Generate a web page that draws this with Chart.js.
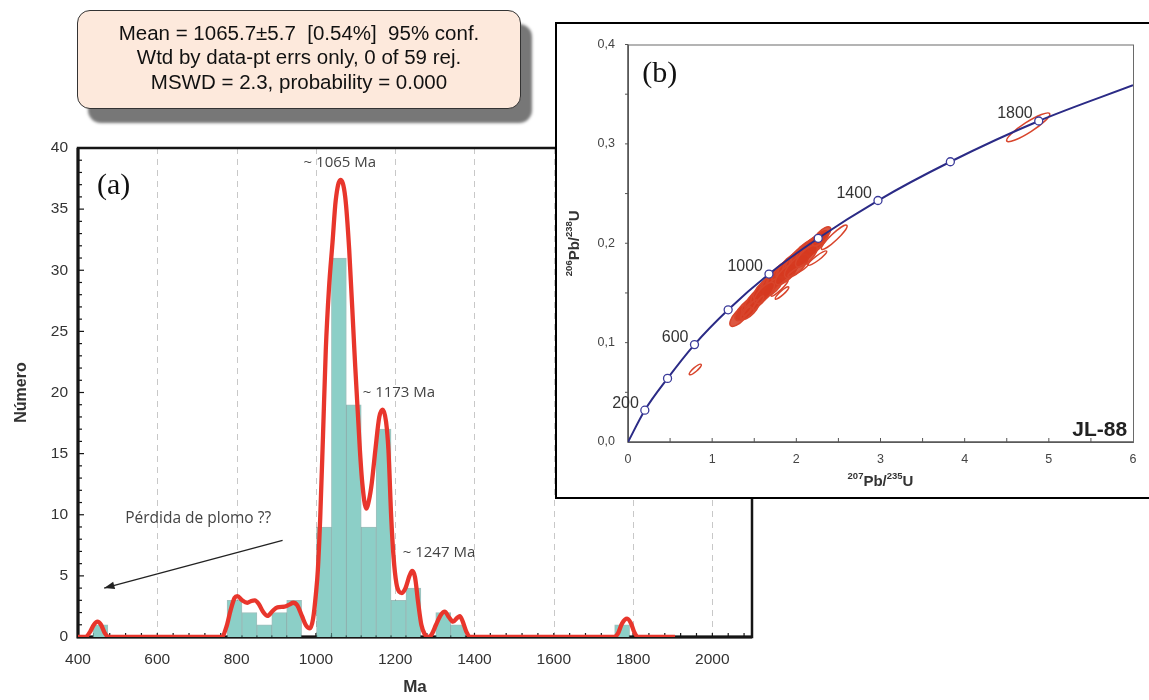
<!DOCTYPE html>
<html>
<head>
<meta charset="utf-8">
<script src="https://cdn.jsdelivr.net/npm/chart.js@4.4.0/dist/chart.umd.min.js"></script>
<style>
body{margin:0;background:#fff;width:1149px;height:700px;overflow:hidden;position:relative;font-family:Arial,"Liberation Sans",sans-serif;}
#histograma{position:absolute;left:0;top:0;}
#caja{position:absolute;left:77px;top:10px;width:444px;height:99px;box-sizing:border-box;background:#fde9dc;border:1.5px solid #333;border-radius:13px;box-shadow:11px 14px 3px #777;text-align:center;font-size:20.5px;line-height:24.3px;color:#111;padding-top:10px;white-space:nowrap;}
#marcoInset{position:absolute;left:555px;top:22px;width:620px;height:477px;box-sizing:border-box;border:2px solid #000;background:#fff;}
#concordia{position:absolute;left:0;top:0;}
</style>
</head>
<body>
<canvas id="histograma" width="1149" height="700"></canvas>
<div id="caja">Mean = 1065.7±5.7&nbsp; [0.54%]&nbsp; 95% conf.<br>Wtd by data-pt errs only, 0 of 59 rej.<br>MSWD = 2.3, probability = 0.000</div>
<div id="marcoInset"><canvas id="concordia" width="592" height="473"></canvas></div>
<script>
// ---------- datos (a): histograma de edades ----------
const centrosBin = [456.4, 794.8, 832.4, 870, 907.6, 945.2, 1020.4, 1058, 1095.6, 1133.2, 1170.8, 1208.4, 1246, 1321.2, 1358.8, 1772.4];
const conteos    = [1, 3, 2, 1, 2, 3, 9, 31, 19, 9, 17, 3, 4, 2, 1, 1];

// curva de probabilidad relativa
const curvaEdad = [400, 418, 430, 440, 449, 458, 468, 478,
    762, 775, 785, 795, 802, 814, 827, 837, 846, 856, 866, 878, 890, 903, 921, 933, 943, 953, 965, 975, 985, 993,
    1000, 1005, 1011, 1018, 1025, 1033, 1042, 1050, 1062, 1074, 1084, 1097, 1111, 1117, 1127, 1134, 1141, 1150,
    1160, 1169, 1177, 1183, 1190, 1196, 1203, 1210, 1217, 1226, 1236, 1243, 1250, 1258, 1266, 1275, 1283,
    1292, 1303, 1315, 1325, 1336, 1346, 1356, 1363, 1370, 1380, 1390,
    1752, 1762, 1772, 1785, 1795, 1803, 1812, 1906];
const curvaValor = [0, 0, 0.4, 1.0, 1.25, 1.0, 0.3, 0,
    0, 0.9, 2.2, 3.2, 3.35, 3.0, 2.8, 2.95, 3.0, 2.7, 2.1, 1.72, 2.1, 2.43, 2.48, 2.65, 2.8, 2.6, 1.7, 0.95, 0.7, 1.5,
    3.5, 5.5, 9.8, 16.5, 23.5, 28.5, 32.3, 35.7, 37.4, 36.0, 31.7, 23.5, 15.3, 12.6, 10.5, 11.2, 12.6, 15.3,
    18.0, 18.6, 17.6, 15.3, 9.8, 6.5, 4.4, 3.7, 3.6, 4.0, 5.0, 5.4, 4.9, 2.8, 1.0, 0.2, 0,
    0.2, 1.0, 1.8, 2.07, 1.6, 1.25, 1.55, 1.7, 1.3, 0.4, 0,
    0, 0.3, 1.1, 1.5, 1.1, 0.4, 0, 0];

const ticksEdad = [400, 600, 800, 1000, 1200, 1400, 1600, 1800, 2000];
const lineasGuia = [600, 800, 1000, 1200, 1400, 1600, 1800, 2000];

// ---------- datos (b): diagrama de concordia ----------
const concordiaX = [0, 0.20, 0.47, 0.79, 1.19, 1.675, 2.26, 2.97, 3.83, 4.88, 6.0];
const concordiaY = [0, 0.032, 0.064, 0.098, 0.133, 0.169, 0.205, 0.243, 0.282, 0.323, 0.359];
const edadesMarca = [200, 400, 600, 800, 1000, 1200, 1400, 1600, 1800];
const edadesEtiqueta = [200, 600, 1000, 1400, 1800];

// elipses de error concordantes (centro x, centro y, error x, error y)
const elipX  = [1.33, 1.41, 1.48, 1.54, 1.60, 1.65, 1.70, 1.74, 1.78, 1.82, 1.86, 1.90, 1.94, 1.98, 2.02, 2.06, 2.10, 2.14, 2.18, 2.22, 2.26, 1.72, 1.88, 2.00, 2.12, 1.45, 1.62, 2.30];
const elipY  = [0.127, 0.134, 0.140, 0.145, 0.151, 0.156, 0.160, 0.164, 0.167, 0.170, 0.173, 0.176, 0.179, 0.182, 0.185, 0.188, 0.191, 0.194, 0.197, 0.199, 0.202, 0.156, 0.169, 0.177, 0.187, 0.133, 0.150, 0.207];
const elipEx = [0.11, 0.13, 0.12, 0.14, 0.13, 0.15, 0.13, 0.14, 0.13, 0.15, 0.14, 0.13, 0.15, 0.13, 0.14, 0.13, 0.15, 0.13, 0.12, 0.13, 0.11, 0.11, 0.12, 0.13, 0.12, 0.10, 0.11, 0.10];
const elipEy = [0.010, 0.011, 0.010, 0.012, 0.011, 0.012, 0.011, 0.012, 0.011, 0.012, 0.011, 0.011, 0.012, 0.011, 0.012, 0.011, 0.012, 0.011, 0.010, 0.011, 0.010, 0.009, 0.010, 0.011, 0.010, 0.009, 0.010, 0.009];
// elipses discordantes (huecas)
const discX  = [1.80, 1.83, 2.02, 2.25, 2.45, 1.45, 1.40, 1.55, 0.80, 4.755];
const discY  = [0.155, 0.150, 0.173, 0.185, 0.206, 0.135, 0.130, 0.140, 0.073, 0.3167];
const discEx = [0.10, 0.08, 0.12, 0.11, 0.15, 0.08, 0.06, 0.06, 0.07, 0.255];
const discEy = [0.008, 0.006, 0.006, 0.007, 0.012, 0.008, 0.006, 0.007, 0.005, 0.0138];

Chart.defaults.font.family = 'Arial, "Liberation Sans", sans-serif';
Chart.defaults.animation = false;

const fuenteNota = '"Open Sans", Lato, sans-serif';
const fuenteArial = 'Arial, "Liberation Sans", sans-serif';

// ---------- grafico (a) ----------
const marcoHistograma = {
    id: 'marcoHistograma',
    beforeDatasetsDraw(chart) {
        const { ctx, chartArea: { left, right, top, bottom }, scales: { x, y } } = chart;
        ctx.save();
        // lineas verticales discontinuas
        ctx.strokeStyle = '#c8c8c8';
        ctx.lineWidth = 1;
        ctx.setLineDash([6, 5]);
        for (const v of lineasGuia) {
            const px = Math.round(x.getPixelForValue(v)) + 0.5;
            ctx.beginPath(); ctx.moveTo(px, top); ctx.lineTo(px, bottom); ctx.stroke();
        }
        ctx.setLineDash([]);
        // marco
        ctx.strokeStyle = '#151515';
        ctx.lineWidth = 2.5;
        ctx.strokeRect(left, top, right - left, bottom - top);
        ctx.lineWidth = 3;
        ctx.beginPath(); ctx.moveTo(left, top); ctx.lineTo(left, bottom); ctx.lineTo(right, bottom); ctx.stroke();
        // marcas menores
        ctx.lineWidth = 1.2;
        for (let v = 440; v < 2100; v += 40) {
            const px = x.getPixelForValue(v);
            ctx.beginPath(); ctx.moveTo(px, bottom); ctx.lineTo(px, bottom - 4); ctx.stroke();
        }
        for (let v = 1; v < 40; v++) {
            const py = y.getPixelForValue(v);
            ctx.beginPath(); ctx.moveTo(left, py); ctx.lineTo(left + (v % 5 === 0 ? 6 : 4), py); ctx.stroke();
        }
        ctx.restore();
    },
    afterDatasetsDraw(chart) {
        const { ctx, scales: { x, y } } = chart;
        ctx.save();
        ctx.fillStyle = '#444';
        ctx.font = '15px ' + fuenteNota;
        ctx.textAlign = 'left';
        ctx.textBaseline = 'middle';
        ctx.fillText('~ 1065 Ma', x.getPixelForValue(969), y.getPixelForValue(38.8));
        ctx.fillText('~ 1173 Ma', x.getPixelForValue(1118), y.getPixelForValue(20.0));
        ctx.fillText('~ 1247 Ma', x.getPixelForValue(1219), y.getPixelForValue(6.9));
        ctx.font = '15.5px ' + fuenteNota;
        ctx.fillText('Pérdida de plomo ??', x.getPixelForValue(519), y.getPixelForValue(9.7));

        // flecha
        const x1 = x.getPixelForValue(916), y1 = y.getPixelForValue(7.9);
        const x2 = x.getPixelForValue(466), y2 = y.getPixelForValue(4.0);
        const ang = Math.atan2(y2 - y1, x2 - x1);
        ctx.strokeStyle = '#222';
        ctx.lineWidth = 1.3;
        ctx.beginPath(); ctx.moveTo(x1, y1); ctx.lineTo(x2, y2); ctx.stroke();
        ctx.fillStyle = '#222';
        ctx.beginPath();
        ctx.moveTo(x2, y2);
        ctx.lineTo(x2 - 11 * Math.cos(ang - 0.35), y2 - 11 * Math.sin(ang - 0.35));
        ctx.lineTo(x2 - 11 * Math.cos(ang + 0.35), y2 - 11 * Math.sin(ang + 0.35));
        ctx.closePath(); ctx.fill();

        // (a)
        ctx.fillStyle = '#111';
        ctx.font = '30px "Liberation Serif", "Times New Roman", serif';
        ctx.textBaseline = 'alphabetic';
        ctx.fillText('(a)', x.getPixelForValue(448), y.getPixelForValue(36.2));
        ctx.restore();
    }
};

new Chart(document.getElementById('histograma'), {
    type: 'bar',
    data: {
        datasets: [
            {
                type: 'line',
                data: curvaEdad.map((e, i) => ({ x: e, y: curvaValor[i] })),
                borderColor: '#e8362c',
                borderWidth: 4.3,
                pointRadius: 0,
                cubicInterpolationMode: 'monotone',
                fill: false,
                order: 0
            },
            {
                type: 'bar',
                data: centrosBin.map((c, i) => ({ x: c, y: conteos[i] })),
                backgroundColor: '#8ccfc7',
                borderColor: 'rgba(80,140,135,0.55)',
                borderWidth: 1,
                barPercentage: 1,
                categoryPercentage: 1,
                order: 1
            }
        ]
    },
    options: {
        responsive: false,
        layout: { padding: { left: 10, top: 148, right: 397, bottom: 0 } },
        plugins: { legend: { display: false }, tooltip: { enabled: false } },
        scales: {
            x: {
                type: 'linear',
                min: 400,
                max: 2100,
                offset: false,
                grid: { display: false, drawTicks: false },
                border: { display: false },
                afterBuildTicks(scale) { scale.ticks = ticksEdad.map(v => ({ value: v })); },
                ticks: {
                    autoSkip: false,
                    maxRotation: 0,
                    padding: 13,
                    color: '#333',
                    font: { size: 15.5 },
                    callback: (v) => String(v)
                },
                title: { display: true, text: 'Ma', color: '#333', font: { size: 17, weight: 'bold' }, padding: { top: 0, bottom: 2 } },
                afterFit(scale) { scale.height = 63; }
            },
            y: {
                min: 0,
                max: 40,
                grid: { display: false, drawTicks: false },
                border: { display: false },
                ticks: { stepSize: 5, padding: 10, color: '#333', font: { size: 15.5 } },
                title: { display: true, text: 'Número', color: '#333', font: { size: 16, weight: 'bold' }, padding: { top: 2, bottom: 0 } },
                afterFit(scale) { scale.width = 68; }
            }
        }
    },
    plugins: [marcoHistograma]
});

// ---------- grafico (b) ----------
function dibujarElipses(ctx, x, y, cx, cy, ex, ey, relleno, razon) {
    for (let i = 0; i < cx.length; i++) {
        const px = x.getPixelForValue(cx[i]);
        const py = y.getPixelForValue(cy[i]);
        const dx = x.getPixelForValue(cx[i] + ex[i]) - px;
        const dy = y.getPixelForValue(cy[i] + ey[i]) - py;
        const a = Math.hypot(dx, dy);
        const b = Math.max(2, a * razon);
        ctx.beginPath();
        ctx.ellipse(px, py, a, b, Math.atan2(dy, dx), 0, Math.PI * 2);
        if (relleno) ctx.fill();
        ctx.stroke();
    }
}

// texto con superindices: partes = [[texto, esSuper], ...]
function textoIsotopo(ctx, partes, cx, cy, rot) {
    const fNormal = 'bold 15px ' + fuenteArial;
    const fSuper = 'bold 9.5px ' + fuenteArial;
    let ancho = 0;
    for (const [t, sup] of partes) { ctx.font = sup ? fSuper : fNormal; ancho += ctx.measureText(t).width; }
    ctx.save();
    ctx.translate(cx, cy);
    ctx.rotate(rot);
    ctx.textAlign = 'left';
    ctx.textBaseline = 'alphabetic';
    let pos = -ancho / 2;
    for (const [t, sup] of partes) {
        ctx.font = sup ? fSuper : fNormal;
        ctx.fillText(t, pos, sup ? -1 : 5.5);
        pos += ctx.measureText(t).width;
    }
    ctx.restore();
}

const detallesConcordia = {
    id: 'detallesConcordia',
    beforeDatasetsDraw(chart) {
        const { ctx, chartArea: { left, right, top, bottom }, scales: { x, y } } = chart;
        ctx.save();
        // marco del area
        ctx.strokeStyle = '#6a6a6a';
        ctx.lineWidth = 1;
        ctx.strokeRect(left + 0.5, top + 0.5, right - left, bottom - top);
        ctx.strokeStyle = '#555';
        ctx.lineWidth = 1.6;
        ctx.beginPath(); ctx.moveTo(left, top); ctx.lineTo(left, bottom); ctx.lineTo(right, bottom); ctx.stroke();
        ctx.lineWidth = 1;
        for (let v = 0.5; v < 6; v += 0.5) {
            const px = x.getPixelForValue(v);
            ctx.beginPath(); ctx.moveTo(px, bottom); ctx.lineTo(px, bottom - 4); ctx.stroke();
        }
        for (let v = 0.05; v < 0.4; v += 0.05) {
            const py = y.getPixelForValue(v);
            ctx.beginPath(); ctx.moveTo(left, py); ctx.lineTo(left - 3, py); ctx.stroke();
        }
        // elipses
        ctx.strokeStyle = '#d8452c';
        ctx.fillStyle = 'rgba(214,58,32,0.85)';
        ctx.lineWidth = 1.5;
        dibujarElipses(ctx, x, y, elipX, elipY, elipEx, elipEy, true, 0.4);
        dibujarElipses(ctx, x, y, discX, discY, discEx, discEy, false, 0.2);
        ctx.restore();
    },
    afterDatasetsDraw(chart) {
        const { ctx, chartArea: { left, right, top, bottom }, scales: { x, y } } = chart;
        ctx.save();
        ctx.fillStyle = '#333';
        ctx.font = '16px ' + fuenteArial;
        ctx.textAlign = 'right';
        ctx.textBaseline = 'middle';
        for (const edad of edadesEtiqueta) {
            const i = edadesMarca.indexOf(edad) + 1;
            ctx.fillText(String(edad), x.getPixelForValue(concordiaX[i]) - 6, y.getPixelForValue(concordiaY[i]) - 7);
        }
        ctx.fillStyle = '#222';
        ctx.font = 'bold 21px ' + fuenteArial;
        ctx.textBaseline = 'alphabetic';
        ctx.fillText('JL-88', x.getPixelForValue(5.93), y.getPixelForValue(0.006));
        ctx.fillStyle = '#111';
        ctx.textAlign = 'left';
        ctx.font = '30px "Liberation Serif", "Times New Roman", serif';
        ctx.fillText('(b)', x.getPixelForValue(0.17), y.getPixelForValue(0.362));

        // titulos de los ejes
        ctx.fillStyle = '#333';
        textoIsotopo(ctx, [['207', true], ['Pb/', false], ['235', true], ['U', false]], (left + right) / 2, 456, 0);
        textoIsotopo(ctx, [['206', true], ['Pb/', false], ['238', true], ['U', false]], 16, (top + bottom) / 2, -Math.PI / 2);
        ctx.restore();
    }
};

new Chart(document.getElementById('concordia'), {
    type: 'scatter',
    data: {
        datasets: [
            {
                data: edadesMarca.map((e, i) => ({ x: concordiaX[i + 1], y: concordiaY[i + 1] })),
                showLine: false,
                pointRadius: 4,
                pointBorderWidth: 1.3,
                pointBackgroundColor: '#fff',
                pointBorderColor: '#3b3b9a',
                order: 0
            },
            {
                data: concordiaX.map((v, i) => ({ x: v, y: concordiaY[i] })),
                showLine: true,
                borderColor: '#2b2b86',
                borderWidth: 2,
                pointRadius: 0,
                cubicInterpolationMode: 'monotone',
                order: 1
            }
        ]
    },
    options: {
        responsive: false,
        layout: { padding: { left: 6, top: 17, right: 16, bottom: 0 } },
        plugins: { legend: { display: false }, tooltip: { enabled: false } },
        scales: {
            x: {
                type: 'linear',
                min: 0,
                max: 6,
                grid: { display: false, drawTicks: false },
                border: { display: false },
                ticks: { stepSize: 1, padding: 10, color: '#444', font: { size: 12.5 } },
                afterFit(scale) { scale.height = 55; }
            },
            y: {
                min: 0,
                max: 0.4,
                grid: { display: false, drawTicks: false },
                border: { display: false },
                ticks: { stepSize: 0.1, padding: 13, color: '#444', font: { size: 12.5 },
                    callback: (v) => v.toFixed(1).replace('.', ',') },
                afterFit(scale) { scale.width = 65; }
            }
        }
    },
    plugins: [detallesConcordia]
});
</script>
</body>
</html>
